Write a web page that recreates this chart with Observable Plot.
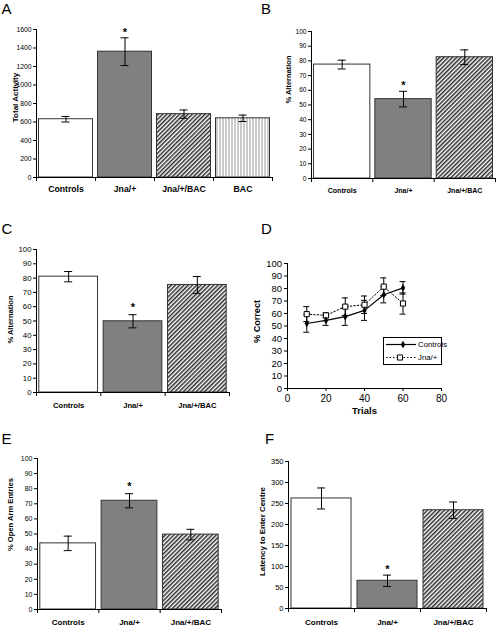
<!DOCTYPE html>
<html><head><meta charset="utf-8">
<script src="https://cdn.jsdelivr.net/npm/d3@7"></script>
<script src="https://cdn.jsdelivr.net/npm/@observablehq/plot@0.6"></script>
<style>
html,body{margin:0;padding:0;background:#fff;}
#fig{position:relative;width:498px;height:627px;overflow:hidden;font-family:"Liberation Sans",Arial,sans-serif;}
#fig > svg{position:absolute;}
</style></head><body><div id="fig"></div>
<script>
// ---------- DATA ----------
const groupsA = ["Controls", "Jna/+", "Jna/+/BAC", "BAC"];
const meanA = [630, 1360, 685, 640];
const semA = [30, 150, 45, 35];
const sigA = [false, true, false, false];

const groups3 = ["Controls", "Jna/+", "Jna/+/BAC"];
const sig3 = [false, true, false];

const meanB = [77.5, 54, 82.5];
const semB = [3, 5.3, 5];

const meanC = [81, 49.8, 75.2];
const semC = [3.6, 4.6, 5.9];

const meanE = [43.8, 72, 49.6];
const semE = [4.8, 4.7, 3.5];

const meanF = [262, 66, 234];
const semF = [25, 13.5, 19.5];

const trials = [10, 20, 30, 40, 50, 60];
const seriesNames = ["Controls", "Jna/+"];
const ctrlMean = [52, 54.5, 57.5, 62.5, 75, 80.5];
const ctrlSem = [7, 4, 7, 8, 6.5, 5];
const jnaMean = [59.5, 58.5, 65.5, 67, 81.5, 68];
const jnaSem = [6, 2, 7, 7, 7, 8.5];

const ticksA = [0, 200, 400, 600, 800, 1000, 1200, 1400, 1600];
const ticksPct = [0, 10, 20, 30, 40, 50, 60, 70, 80, 90, 100];
const ticksF = [0, 50, 100, 150, 200, 250, 300, 350];
const ticksTrials = [0, 20, 40, 60, 80];

const yLabels = {
  A: "Total Activity", B: "% Alternation", C: "% Alternation",
  D: "% Correct", E: "% Open Arm Entries", F: "Latency to Enter Centre"
};
const xLabelD = "Trials";
const panelLetters = ["A", "B", "C", "D", "E", "F"];

// ---------- STYLES ----------
const FONT = "Liberation Sans, Arial, sans-serif";
const fills = {"Controls": "#ffffff", "Jna/+": "#808080", "Jna/+/BAC": "url(#diag)", "BAC": "url(#vert)"};
const fmt = d => String(d);

const fig = d3.select("#fig");

// pattern defs
const defs = fig.append("svg").attr("width", 0).attr("height", 0).style("position", "absolute").append("defs");
const pd = defs.append("pattern").attr("id", "diag").attr("patternUnits", "userSpaceOnUse")
  .attr("width", 3).attr("height", 3).attr("patternTransform", "rotate(45)");
pd.append("rect").attr("width", 3).attr("height", 3).attr("fill", "#fff");
pd.append("line").attr("x1", 0.75).attr("y1", 0).attr("x2", 0.75).attr("y2", 3).attr("stroke", "#2a2a2a").attr("stroke-width", 1.5);
const pv = defs.append("pattern").attr("id", "vert").attr("patternUnits", "userSpaceOnUse")
  .attr("width", 3).attr("height", 3);
pv.append("rect").attr("width", 3).attr("height", 3).attr("fill", "#fff");
pv.append("line").attr("x1", 1).attr("y1", 0).attr("x2", 1).attr("y2", 3).attr("stroke", "#a0a0a0").attr("stroke-width", 1.1);

function place(svg, box, lblLen) {
  svg.style.left = box.x + "px";
  svg.style.top = box.y + "px";
  if (lblLen) {
    const t = svg.querySelector('[aria-label="ylabel"] text');
    if (t) { t.setAttribute("textLength", lblLen); t.setAttribute("lengthAdjust", "spacingAndGlyphs"); }
  }
  fig.node().appendChild(svg);
}

function barPanel(cfg) {
  const {groups, mean, sem, sig, yTicks, yMax, yLabel, box, m, fs} = cfg;
  const n = groups.length;
  const rows = groups.map((g, i) => ({g, i, mean: mean[i], lo: mean[i] - sem[i], hi: mean[i] + sem[i], sig: sig[i]}));
  const catPx = (box.w - m.l - m.r) / n;
  const cap = cfg.capPx / catPx;
  const svg = Plot.plot({
    width: box.w, height: box.h,
    marginTop: m.t, marginRight: m.r, marginBottom: m.b, marginLeft: m.l,
    x: {type: "linear", domain: [-0.5, n - 0.5], axis: null},
    y: {domain: [0, yMax], axis: null},
    color: {type: "identity"},
    style: {background: "none", fontFamily: FONT, overflow: "visible", color: "#000"},
    marks: [
      Plot.rectY(rows, {x1: d => d.i - 0.5, x2: d => d.i + 0.5, y1: 0, y2: "mean",
        fill: d => fills[d.g], stroke: "#333", strokeWidth: 1, insetLeft: cfg.inset, insetRight: cfg.inset}),
      Plot.ruleX(rows, {x: "i", y1: "lo", y2: "hi", stroke: "#000", strokeWidth: 1}),
      Plot.ruleY(rows, {y: "lo", x1: d => d.i - cap, x2: d => d.i + cap, stroke: "#000", strokeWidth: 1}),
      Plot.ruleY(rows, {y: "hi", x1: d => d.i - cap, x2: d => d.i + cap, stroke: "#000", strokeWidth: 1}),
      Plot.text(rows.filter(d => d.sig), {x: "i", y: "hi", text: () => "*", dy: cfg.starDy, fontSize: 11, fontWeight: "bold"}),
      Plot.ruleX([-0.5], {y1: 0, y2: yMax, stroke: "#000"}),
      Plot.ruleY([0], {x1: -0.5, x2: n - 0.5, stroke: "#000"}),
      Plot.axisY({ticks: yTicks, tickFormat: fmt, tickSize: 3, tickPadding: 2, fontSize: fs.tick, label: null}),
      Plot.axisX({ticks: d3.range(n + 1).map(i => i - 0.5), tickSize: 4, tickFormat: () => "", label: null}),
      Plot.text(rows, {x: "i", y: 0, text: "g", dy: cfg.catDy, fontWeight: "bold", fontSize: fs.cat}),
      Plot.text([yLabel], {frameAnchor: "left", textAnchor: "middle", text: d => d, rotate: -90, dx: cfg.lblDx, dy: cfg.lblDy,
        fontWeight: "bold", fontSize: fs.lbl, ariaLabel: "ylabel"})
    ]
  });
  place(svg, box, cfg.lblLen);
}

// Panel A
barPanel({groups: groupsA, mean: meanA, sem: semA, sig: sigA, yTicks: ticksA, yMax: 1600, yLabel: yLabels.A,
  box: {x: 0, y: 0, w: 276, h: 200}, m: {t: 29, r: 4, b: 23, l: 36},
  fs: {tick: 6.8, cat: 8.7, lbl: 8}, capPx: 4, inset: 2.5, starDy: -5, catDy: 12, lblDx: -21, lblDy: -6});
// Panel B
barPanel({groups: groups3, mean: meanB, sem: semB, sig: sig3, yTicks: ticksPct, yMax: 100, yLabel: yLabels.B,
  box: {x: 250, y: 0, w: 248, h: 200}, m: {t: 31, r: 3, b: 22, l: 61},
  fs: {tick: 6.6, cat: 7, lbl: 7.5}, capPx: 4, inset: 2.5, starDy: -6, catDy: 12, lblDx: -22.5, lblDy: -25.5});
// Panel C
barPanel({groups: groups3, mean: meanC, sem: semC, sig: sig3, yTicks: ticksPct, yMax: 100, yLabel: yLabels.C,
  box: {x: 0, y: 205, w: 250, h: 210}, m: {t: 44, r: 21, b: 23, l: 36},
  fs: {tick: 7.8, cat: 7.6, lbl: 7.5}, capPx: 4, inset: 2.8, starDy: -7, catDy: 13, lblDx: -25.5, lblDy: -1.5});
// Panel E
barPanel({groups: groups3, mean: meanE, sem: semE, sig: sig3, yTicks: ticksPct, yMax: 100, yLabel: yLabels.E,
  box: {x: 0, y: 415, w: 250, h: 212}, m: {t: 43, r: 29, b: 18, l: 37},
  fs: {tick: 7, cat: 8, lbl: 7.6}, capPx: 4, inset: 2.8, starDy: -7, catDy: 13, lblDx: -27, lblDy: -19.5, lblLen: 64});
// Panel F
barPanel({groups: groups3, mean: meanF, sem: semF, sig: sig3, yTicks: ticksF, yMax: 350, yLabel: yLabels.F,
  box: {x: 250, y: 415, w: 248, h: 212}, m: {t: 46, r: 12, b: 19, l: 38},
  fs: {tick: 7.5, cat: 8, lbl: 7.9}, capPx: 4, inset: 3, starDy: -6, catDy: 14, lblDx: -26.5, lblDy: -3.5});

// Panel D (line chart)
(function () {
  const box = {x: 250, y: 205, w: 248, h: 215};
  const m = {t: 58, r: 57, b: 32, l: 37};
  const mk = (mean, sem, s) => trials.map((t, i) => ({t, s, m: mean[i], lo: mean[i] - sem[i], hi: mean[i] + sem[i]}));
  const ctrl = mk(ctrlMean, ctrlSem, seriesNames[0]);
  const jna = mk(jnaMean, jnaSem, seriesNames[1]);
  const all = jna.concat(ctrl);
  const cap = 3 / ((box.w - m.l - m.r) / 80);
  const svg = Plot.plot({
    width: box.w, height: box.h,
    marginTop: m.t, marginRight: m.r, marginBottom: m.b, marginLeft: m.l,
    x: {domain: [0, 80], axis: null},
    y: {domain: [0, 100], axis: null},
    style: {background: "none", fontFamily: FONT, overflow: "visible", color: "#000"},
    marks: [
      Plot.ruleX([0], {y1: 0, y2: 100, stroke: "#000"}),
      Plot.ruleY([0], {x1: 0, x2: 80, stroke: "#000"}),
      Plot.axisY({ticks: ticksPct, tickFormat: fmt, tickSize: 3, tickPadding: 2.5, fontSize: 9.5, label: null}),
      Plot.axisX({ticks: ticksTrials, tickFormat: fmt, tickSize: 3, tickPadding: 3.5, fontSize: 10, label: null}),
      Plot.ruleX(all, {x: "t", y1: "lo", y2: "hi", stroke: "#000", strokeWidth: 1}),
      Plot.ruleY(all, {y: "lo", x1: d => d.t - cap, x2: d => d.t + cap, stroke: "#000"}),
      Plot.ruleY(all, {y: "hi", x1: d => d.t - cap, x2: d => d.t + cap, stroke: "#000"}),
      Plot.line(jna, {x: "t", y: "m", stroke: "#000", strokeWidth: 1, strokeDasharray: "1.5,2"}),
      Plot.line(ctrl, {x: "t", y: "m", stroke: "#000", strokeWidth: 1.2}),
      Plot.dot(jna, {x: "t", y: "m", symbol: "square", r: 2.9, fill: "#fff", stroke: "#000", strokeWidth: 1}),
      Plot.dot(ctrl, {x: "t", y: "m", symbol: "diamond", r: 2.3, fill: "#000", stroke: "none"}),
      Plot.text([xLabelD], {frameAnchor: "bottom", text: d => d, dy: 25, fontWeight: "bold", fontSize: 9.5}),
      Plot.text([yLabels.D], {frameAnchor: "left", textAnchor: "middle", text: d => d, rotate: -90, dx: -30.5, dy: -4.5,
        fontWeight: "bold", fontSize: 9.1})
    ]
  });
  place(svg, box);

  // legend
  const leg = fig.append("svg").style("left", "383px").style("top", "337px")
    .attr("width", 70).attr("height", 30).style("overflow", "visible");
  leg.append("rect").attr("x", 0.5).attr("y", 0.5).attr("width", 58).attr("height", 27)
    .attr("fill", "#fff").attr("stroke", "#000").attr("stroke-width", 1);
  const ly = [7.5, 20.5];
  leg.append("line").attr("x1", 3).attr("x2", 33).attr("y1", ly[0]).attr("y2", ly[0]).attr("stroke", "#000").attr("stroke-width", 1.2);
  leg.append("path").attr("d", d3.symbol(d3.symbolDiamond, Math.PI * 2.3 * 2.3)()).attr("transform", `translate(20,${ly[0]})`).attr("fill", "#000");
  leg.append("line").attr("x1", 3).attr("x2", 33).attr("y1", ly[1]).attr("y2", ly[1]).attr("stroke", "#000").attr("stroke-dasharray", "1.5,2");
  leg.append("path").attr("d", d3.symbol(d3.symbolSquare, Math.PI * 2.9 * 2.9)()).attr("transform", `translate(17,${ly[1]})`).attr("fill", "#fff").attr("stroke", "#000");
  seriesNames.forEach((s, i) => {
    leg.append("text").attr("x", 35).attr("y", ly[i]).attr("dy", "0.32em").attr("font-size", 7.8)
      .attr("font-family", FONT).text(s);
  });
})();

// panel letters
const letters = fig.append("svg").attr("width", 498).attr("height", 627).style("left", "0px").style("top", "0px").style("pointer-events", "none");
const letterPos = [[1.5, 13.5], [261, 13.5], [1.5, 233.5], [261, 233.5], [1.5, 443.5], [265, 443.5]];
panelLetters.forEach((L, i) => {
  letters.append("text").attr("x", letterPos[i][0]).attr("y", letterPos[i][1]).attr("font-size", 15)
    .attr("font-family", FONT).text(L);
});
</script>
</body></html>
